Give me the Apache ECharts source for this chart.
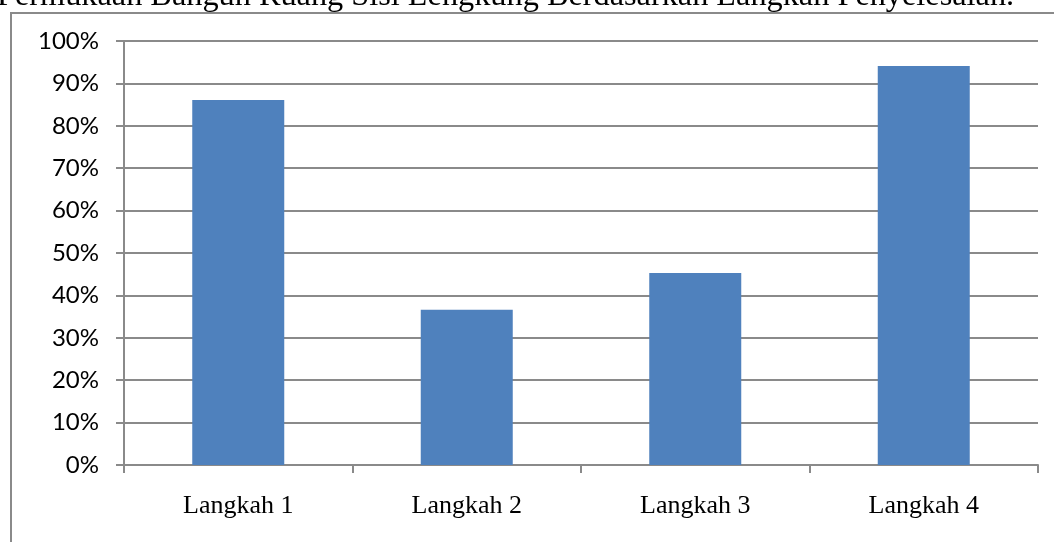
<!DOCTYPE html>
<html lang="id">
<head>
    <meta charset="UTF-8">
    <title>Langkah Penyelesaian</title>
    <script src="https://cdn.jsdelivr.net/npm/echarts@6/dist/echarts.min.js"></script>
    <style>
        html, body { margin: 0; padding: 0; background: #fff; }
        .main { width: 1054px; height: 542px; }
    </style>
</head>
<body>
<div class="main"></div>
<script>
    // data
    let categories = ['Langkah 1', 'Langkah 2', 'Langkah 3', 'Langkah 4'];
    let values = [86.1, 36.6, 45.3, 94.1];
    let yTicks = [0, 10, 20, 30, 40, 50, 60, 70, 80, 90, 100];
    let titleText = 'Permukaan Bangun Ruang Sisi Lengkung Berdasarkan Langkah Penyelesaian.';

    let myChart = echarts.init(document.querySelector('.main'));
    let gray = '#8a8a8a';

    let option = {
        animation: false,
        backgroundColor: '#fff',
        graphic: [
            {
                type: 'text',
                left: -3,
                top: -19,
                style: {
                    text: titleText,
                    font: '32.3px "Liberation Serif", "Times New Roman", serif',
                    fill: '#000'
                }
            },
            {
                type: 'rect',
                shape: { x: 11, y: 13, width: 1200, height: 700 },
                style: { fill: 'none', stroke: gray, lineWidth: 2 }
            }
        ],
        grid: { left: 124, right: 16, top: 41, bottom: 77 },
        xAxis: {
            type: 'category',
            data: categories,
            axisLine: { lineStyle: { color: gray, width: 2 } },
            axisTick: { show: true, length: 8, lineStyle: { color: gray, width: 2 } },
            axisLabel: {
                margin: 28,
                color: '#000',
                fontFamily: '"Liberation Serif", "Times New Roman", serif',
                fontSize: 26
            }
        },
        yAxis: {
            type: 'value',
            min: yTicks[0],
            max: yTicks[yTicks.length - 1],
            interval: 10,
            axisLine: { show: true, lineStyle: { color: gray, width: 2 } },
            axisTick: { show: true, length: 8, lineStyle: { color: gray, width: 2 } },
            splitLine: { lineStyle: { color: gray, width: 2 } },
            axisLabel: {
                margin: 25,
                color: '#000',
                fontFamily: 'Lato, "Open Sans", sans-serif',
                fontSize: 24,
                formatter: v => v + '%'
            }
        },
        series: [{
            type: 'bar',
            data: values,
            barWidth: 92,
            itemStyle: { color: '#4f81bd' }
        }]
    };
    myChart.setOption(option);
</script>
</body>
</html>
